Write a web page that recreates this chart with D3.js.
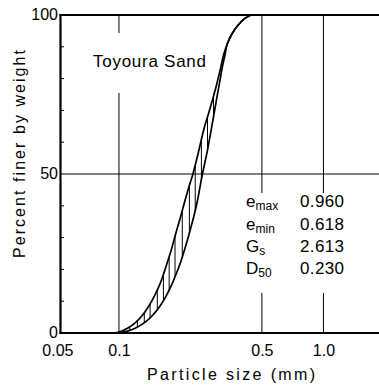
<!DOCTYPE html>
<html>
<head>
<meta charset="utf-8">
<script src="https://cdn.jsdelivr.net/npm/d3@7"></script>
<style>
  html, body { margin: 0; padding: 0; background: #fff; }
  svg { display: block; font-family: "Liberation Sans", Arial, sans-serif; }
</style>
</head>
<body>
<svg id="chart" width="379" height="385"></svg>
<script>
// ---------- data ----------
const upperSize = [0.095, 0.100, 0.110, 0.120, 0.130, 0.140, 0.150, 0.160, 0.170, 0.180, 0.190, 0.200, 0.210, 0.220, 0.230, 0.245, 0.260, 0.280, 0.300, 0.314, 0.325, 0.338, 0.355, 0.380, 0.410, 0.442];
const upperPct  = [0,     0.3,   1.5,   3.2,   5.5,   8.5,   12.0,  16.0,  21.0,  26.0,  31.5,  36.5,  41.5,  46.0,  50.0,  57.0,  64.0,  71.0,  78.0,  83.3,  87.5,  90.8,  93.8,  96.6,  98.8,  100];
const lowerSize = [0.100, 0.110, 0.120, 0.130, 0.140, 0.150, 0.160, 0.170, 0.180, 0.190, 0.200, 0.210, 0.220, 0.230, 0.240, 0.256, 0.270, 0.280, 0.290, 0.300, 0.310, 0.320, 0.330, 0.338, 0.355, 0.380, 0.410, 0.442];
const lowerPct  = [0,     0.6,   1.5,   2.8,   4.4,   6.4,   8.8,   11.6,  14.8,  18.4,  22.2,  26.5,  31.0,  35.6,  40.5,  50.0,  57.0,  62.5,  68.0,  73.5,  78.5,  83.5,  87.5,  90.8,  93.8,  96.6,  98.8,  100];
const hatchSizes = [0.113, 0.123, 0.133, 0.142, 0.154, 0.165, 0.176, 0.188, 0.204, 0.221, 0.236, 0.253, 0.271, 0.290];

const xTickValues = [0.05, 0.1, 0.5, 1.0];
const xTickLabels = ["0.05", "0.1", "0.5", "1.0"];
const xGridValues = [0.1, 0.5, 1.0];
const yTickValues = [0, 50, 100];
const yMinorTicks = [10, 20, 30, 40, 60, 70, 80, 90];
const yGridValues = [50];

const paramNames = ["e", "e", "G", "D"];
const paramSubs  = ["max", "min", "s", "50"];
const paramValues = ["0.960", "0.618", "2.613", "0.230"];

const chartTitle = "Toyoura Sand";
const xTitle = "Particle  size (mm)";
const yTitle = "Percent finer by weight";

// ---------- layout ----------
const W = 379, H = 385;
const axisLeft = 60.5, plotRight = 379;
const yTop = 15, yBottom = 333;
const x0px = 57.4, decadePx = 204.5;

const x = d3.scaleLog().domain([0.05, 2]).range([x0px, x0px + decadePx * Math.log10(40)]);
const y = d3.scaleLinear().domain([0, 100]).range([yBottom, yTop]);

const svg = d3.select("#chart");
svg.append("rect").attr("width", W).attr("height", H).attr("fill", "#fff");

// grid lines
svg.append("g").selectAll("line").data(xGridValues).join("line")
  .attr("x1", d => x(d)).attr("x2", d => x(d))
  .attr("y1", y(0)).attr("y2", y(100))
  .attr("stroke", "#000").attr("stroke-width", 1);
svg.append("g").selectAll("line").data(yGridValues).join("line")
  .attr("x1", axisLeft).attr("x2", plotRight)
  .attr("y1", d => y(d)).attr("y2", d => y(d))
  .attr("stroke", "#000").attr("stroke-width", 1);

// white boxes behind labels (gridlines are interrupted there)
svg.append("rect").attr("x", 88).attr("y", 33).attr("width", 120).attr("height", 60).attr("fill", "#fff");
svg.append("rect").attr("x", 238).attr("y", 193).attr("width", 115).attr("height", 100).attr("fill", "#fff");

// minor ticks on the left axis
svg.append("g").selectAll("line").data(yMinorTicks).join("line")
  .attr("x1", axisLeft).attr("x2", axisLeft + 3.5)
  .attr("y1", d => y(d)).attr("y2", d => y(d))
  .attr("stroke", "#000").attr("stroke-width", 1);

// frame: left, bottom, top
svg.append("line").attr("x1", axisLeft).attr("x2", axisLeft).attr("y1", yTop - 1).attr("y2", yBottom + 1)
  .attr("stroke", "#000").attr("stroke-width", 2.2);
svg.append("line").attr("x1", axisLeft - 1).attr("x2", plotRight).attr("y1", yBottom).attr("y2", yBottom)
  .attr("stroke", "#000").attr("stroke-width", 2.2);
svg.append("line").attr("x1", axisLeft - 1).attr("x2", plotRight).attr("y1", yTop).attr("y2", yTop)
  .attr("stroke", "#000").attr("stroke-width", 2.2);

// axes labels via d3 axes
const gx = svg.append("g").attr("transform", `translate(0,${yBottom})`)
  .call(d3.axisBottom(x).tickValues(xTickValues).tickFormat((d, i) => xTickLabels[i]).tickSize(0).tickPadding(11.5));
gx.select(".domain").remove();
gx.selectAll("text").attr("font-size", 16).attr("font-family", "Liberation Sans, Arial, sans-serif").attr("fill", "#000");

const gy = svg.append("g").attr("transform", `translate(${axisLeft},0)`)
  .call(d3.axisLeft(y).tickValues(yTickValues).tickFormat(d3.format("d")).tickSize(0).tickPadding(2.5));
gy.select(".domain").remove();
gy.selectAll("text").attr("font-size", 16).attr("dy", "0.28em").attr("font-family", "Liberation Sans, Arial, sans-serif").attr("fill", "#000");

// curves
const upperPts = upperSize.map((s, i) => [x(s), y(upperPct[i])]);
const lowerPts = lowerSize.map((s, i) => [x(s), y(lowerPct[i])]);
const lineGen = d3.line().curve(d3.curveCatmullRom.alpha(0.5));

const clipD = lineGen(upperPts) + "L" + lineGen(lowerPts.slice().reverse()).slice(1);
svg.append("clipPath").attr("id", "band").append("path").attr("d", clipD);

svg.append("g").attr("clip-path", "url(#band)")
  .selectAll("line").data(hatchSizes).join("line")
  .attr("x1", d => x(d)).attr("x2", d => x(d))
  .attr("y1", y(0)).attr("y2", y(100))
  .attr("stroke", "#000").attr("stroke-width", 1);

svg.append("path").attr("d", lineGen(upperPts)).attr("fill", "none")
  .attr("stroke", "#000").attr("stroke-width", 1.7);
svg.append("path").attr("d", lineGen(lowerPts)).attr("fill", "none")
  .attr("stroke", "#000").attr("stroke-width", 1.7);

// title inside plot
svg.append("text").attr("x", 93).attr("y", 67).attr("font-size", 17)
  .attr("textLength", 113).attr("lengthAdjust", "spacing").attr("fill", "#000")
  .text(chartTitle);

// parameter table
const rowY = [207, 229.5, 252, 273.5];
const tbl = svg.append("g");
paramNames.forEach((n, i) => {
  const t = tbl.append("text").attr("x", 246).attr("y", rowY[i]).attr("font-size", 17).attr("fill", "#000");
  t.append("tspan").text(n);
  t.append("tspan").attr("font-size", 12).attr("dy", 3).text(paramSubs[i]);
  tbl.append("text").attr("x", 300).attr("y", rowY[i]).attr("font-size", 17)
    .attr("textLength", 44).attr("lengthAdjust", "spacing").attr("fill", "#000").text(paramValues[i]);
});

// axis titles
svg.append("text").attr("x", 231).attr("y", 380).attr("text-anchor", "middle").attr("font-size", 16)
  .attr("textLength", 168).attr("lengthAdjust", "spacing").attr("fill", "#000").text(xTitle);
svg.append("text").attr("transform", "translate(24.5,154) rotate(-90)").attr("text-anchor", "middle")
  .attr("font-size", 16).attr("textLength", 208).attr("lengthAdjust", "spacing").attr("fill", "#000").text(yTitle);
</script>
</body>
</html>
